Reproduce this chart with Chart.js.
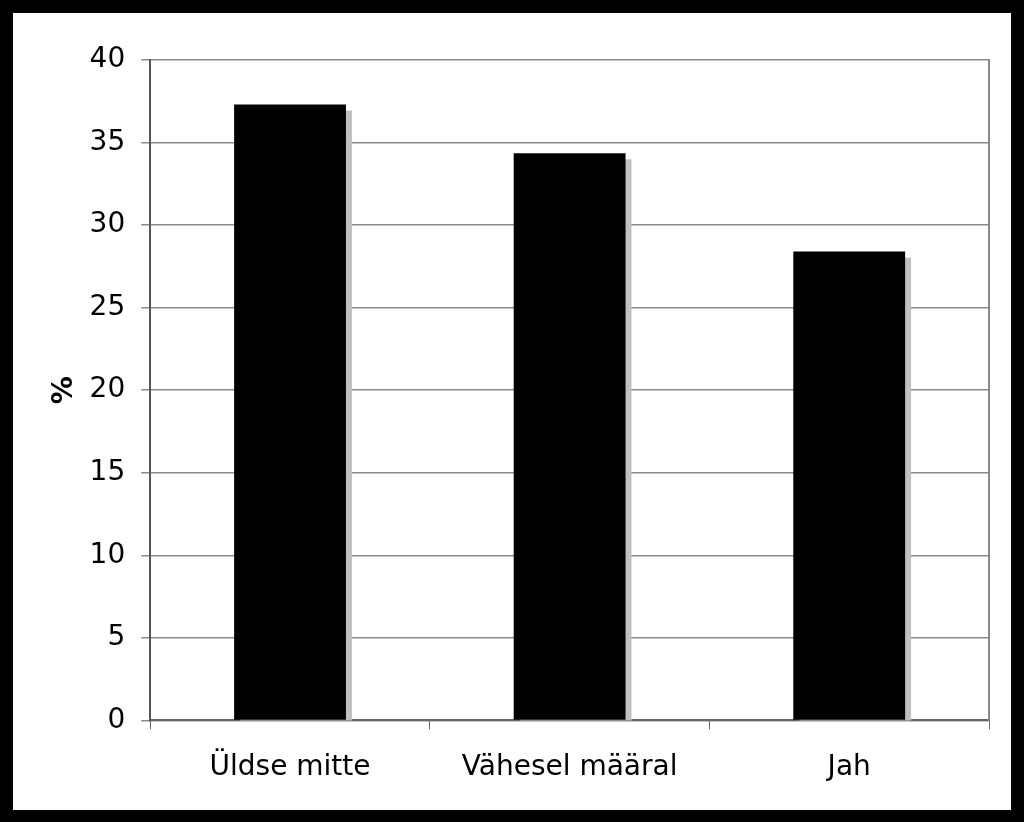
<!DOCTYPE html>
<html>
<head>
<meta charset="utf-8">
<script src="https://cdn.jsdelivr.net/npm/chart.js@4"></script>
<style>
  html, body { margin: 0; padding: 0; background: #000; }
  #frame {
    position: absolute; left: 0; top: 0;
    width: 1024px; height: 822px; box-sizing: border-box;
    border-style: solid; border-color: #000;
    border-width: 13px 13px 12px 13px;
    background: #fff;
  }
  #wrap { position: relative; width: 998px; height: 797px; }
</style>
</head>
<body>
<div id="frame"><div id="wrap"><canvas id="chart"></canvas></div></div>
<script>
// data
const categories = ["Üldse mitte", "Vähesel määral", "Jah"];
const values = [37.3, 34.35, 28.4];
const yTicks = [0, 5, 10, 15, 20, 25, 30, 35, 40];

const fontFamily = "Verdana, 'DejaVu Sans', sans-serif";

// gray drop shadow behind the bars
const barShadow = {
  id: "barShadow",
  beforeDatasetsDraw(chart) {
    const ctx = chart.ctx;
    ctx.save();
    ctx.shadowColor = "#c0c0c0";
    ctx.shadowOffsetX = 6;
    ctx.shadowOffsetY = 6;
    ctx.shadowBlur = 0;
  },
  afterDatasetsDraw(chart) {
    chart.ctx.restore();
  }
};

new Chart(document.getElementById("chart"), {
  type: "bar",
  data: {
    labels: categories,
    datasets: [{
      label: "%",
      data: values,
      backgroundColor: "#000",
      categoryPercentage: 1,
      barPercentage: 0.4,
    }],
  },
  options: {
    responsive: true,
    maintainAspectRatio: false,
    animation: false,
    layout: { padding: { top: 47, right: 22, left: 35, bottom: 3 } },
    plugins: {
      legend: { display: false },
      tooltip: { enabled: false },
    },
    scales: {
      x: {
        grid: {
          offset: true,
          drawOnChartArea: false,
          drawTicks: true,
          tickLength: 9,
          color: "#666",
          lineWidth: 1,
        },
        border: { color: "#666", width: 2 },
        ticks: {
          color: "#000",
          padding: 22,
          font: { family: fontFamily, size: 28 },
        },
      },
      y: {
        min: 0,
        max: 40,
        afterBuildTicks(scale) {
          scale.ticks = yTicks.map((v) => ({ value: v }));
        },
        grid: {
          color: "#8a8a8a",
          lineWidth: 1.5,
          tickLength: 9,
        },
        border: { color: "#555", width: 2 },
        ticks: {
          color: "#000",
          padding: 16,
          font: { family: fontFamily, size: 28 },
        },
        title: {
          display: true,
          text: "%",
          color: "#000",
          padding: { top: 0, bottom: -8 },
          font: { family: fontFamily, size: 28, weight: "bold" },
        },
      },
      y2: {
        position: "right",
        min: 0,
        max: 40,
        grid: { drawOnChartArea: false, drawTicks: false },
        border: { color: "#8a8a8a", width: 2 },
        ticks: { display: false },
      },
    },
  },
  plugins: [barShadow],
});
</script>
</body>
</html>
